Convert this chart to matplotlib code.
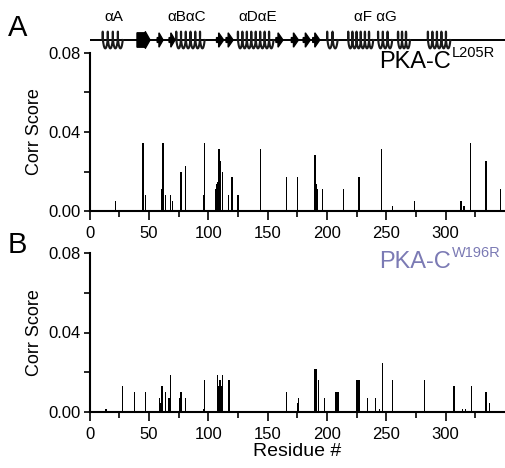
import numpy as np
import matplotlib
matplotlib.use("Agg")
import matplotlib.pyplot as plt
from matplotlib.patches import Polygon
from matplotlib.ticker import FixedLocator

plt.rcParams['font.family'] = ['Liberation Sans', 'DejaVu Sans']

# ---------------- data ----------------
resA = [22, 45, 47, 61, 62, 64, 68, 70, 77, 81, 96, 97, 106, 107, 108, 109, 110, 112,
        117, 120, 125, 144, 166, 175, 190, 191, 192, 196, 214, 227, 246, 255, 274,
        313, 315, 316, 321, 334, 346]
valA = [0.0051, 0.0343, 0.0082, 0.0110, 0.0343, 0.0082, 0.0082, 0.0051, 0.0199, 0.0229,
        0.0082, 0.0343, 0.0110, 0.0135, 0.0145, 0.0314, 0.0255, 0.0199,
        0.0082, 0.0170, 0.0082, 0.0314, 0.0170, 0.0170, 0.0285, 0.0139, 0.0110, 0.0110,
        0.0110, 0.0170, 0.0314, 0.0025, 0.0051,
        0.0051, 0.0025, 0.0025, 0.0343, 0.0255, 0.0110]

resB = [14, 28, 38, 47, 59, 60, 61, 64, 67, 68, 76, 77, 81, 96, 97, 108, 109, 110, 111,
        112, 117, 118, 166, 175, 176, 190, 191, 193, 198, 207, 208, 209, 210, 225, 226,
        227, 234, 241, 244, 247, 255, 282, 307, 314, 317, 322, 334, 337]
valB = [0.0017, 0.0131, 0.0101, 0.0101, 0.0072, 0.0045, 0.0131, 0.0101, 0.0072, 0.0188,
        0.0072, 0.0101, 0.0072, 0.0017, 0.0160, 0.0188, 0.0131, 0.0160, 0.0131,
        0.0188, 0.0160, 0.0160, 0.0101, 0.0045, 0.0072, 0.0218, 0.0218, 0.0160, 0.0072,
        0.0101, 0.0101, 0.0101, 0.0101, 0.0160, 0.0160,
        0.0160, 0.0072, 0.0072, 0.0017, 0.0247, 0.0160, 0.0160, 0.0131, 0.0017, 0.0017,
        0.0131, 0.0101, 0.0045]

# secondary structure (residue ranges)
helices = [(11, 28), (73, 97), (125, 155), (200, 209), (218, 239), (243, 255),
           (260, 270), (285, 304)]
strands = [(57, 62), (67, 72), (107, 113), (115, 121), (157, 163), (170, 176),
           (180, 186), (188, 194)]
big_strands = [(40, 51)]
ss_labels = ["\u03b1A", "\u03b1B\u03b1C", "\u03b1D\u03b1E", "\u03b1F \u03b1G"]
ss_label_pos = [114, 187, 258, 375]  # pixel x centres

xticks_major = [0, 50, 100, 150, 200, 250, 300]
xticks_minor = [25, 75, 125, 175, 225, 275, 325]
yticks_major = [0.0, 0.04, 0.08]
ytick_labels = ["0.00", "0.04", "0.08"]
yticks_minor = [0.02, 0.06]

W, H = 505, 468
fig = plt.figure(figsize=(W / 100, H / 100), dpi=100)

x0px, x1px = 89.5, 505


def make_ax(top_px, bot_px):
    ax = fig.add_axes([x0px / W, 1 - bot_px / H, (x1px - x0px) / W, (bot_px - top_px) / H])
    ax.set_xlim(0, 350)
    ax.set_ylim(0, 0.08)
    for s in ['top', 'right']:
        ax.spines[s].set_visible(False)
    for s in ['left', 'bottom']:
        ax.spines[s].set_linewidth(1.5)
        ax.spines[s].set_zorder(5)
    ax.xaxis.set_major_locator(FixedLocator(xticks_major))
    ax.xaxis.set_minor_locator(FixedLocator(xticks_minor))
    ax.yaxis.set_major_locator(FixedLocator(yticks_major))
    ax.yaxis.set_minor_locator(FixedLocator(yticks_minor))
    ax.set_yticklabels(ytick_labels)
    ax.tick_params(axis='x', which='major', direction='out', length=6.5, width=1.2,
                   labelsize=12, pad=4)
    ax.tick_params(axis='x', which='minor', direction='out', length=4.3, width=1.2)
    ax.tick_params(axis='y', which='both', direction='out', length=4.3, width=1.2,
                   labelsize=12, pad=2)
    ax.set_ylabel("Corr Score", fontsize=13, labelpad=4)
    return ax


axA = make_ax(53, 211)
axB = make_ax(253, 412)

axA.bar(resA, valA, width=1.1, color='black', linewidth=0, zorder=3)
axB.bar(resB, valB, width=1.1, color='black', linewidth=0, zorder=3)
axB.set_xlabel("Residue #", fontsize=14, labelpad=1)

# panel letters
fig.text(8 / W, 1 - 36 / H, "A", fontsize=21, ha='left', va='baseline')
fig.text(8 / W, 1 - 253 / H, "B", fontsize=21, ha='left', va='baseline')

# variant labels
fig.text(379 / W, 1 - 68 / H, "PKA-C", fontsize=17, ha='left', va='baseline', color='black')
fig.text(452 / W, 1 - 57 / H, "L205R", fontsize=10.5, ha='left', va='baseline', color='black')
cB = '#7b7ab4'
fig.text(379 / W, 1 - 268 / H, "PKA-C", fontsize=17, ha='left', va='baseline', color=cB)
fig.text(452 / W, 1 - 257 / H, "W196R", fontsize=10.5, ha='left', va='baseline', color=cB)

# secondary structure strip
ax_ss = fig.add_axes([x0px / W, 1 - 52 / H, (x1px - x0px) / W, 24 / H])
ax_ss.set_xlim(0, 350)
ax_ss.set_ylim(-1, 1)
ax_ss.axis('off')
ax_ss.plot([0, 350], [0, 0], color='black', lw=1.4, solid_capstyle='butt', zorder=1)

for (s, e) in helices:
    n = max(2, int(round((e - s) / 3.8)))
    p = (e - s) / n
    t = np.linspace(0, 2 * np.pi * n, 60 * n)
    r = 0.9
    x = s + p * t / (2 * np.pi) + r * np.cos(t) - r
    y = 0.7 * np.sin(t)
    ax_ss.plot(x, y, color='#1a1a1a', lw=1.5, zorder=3)

for (s, e) in strands:
    head = min(4.5, (e - s) * 0.7)
    pts = [(s, -0.2), (e - head, -0.2), (e - head, -0.6), (e, 0), (e - head, 0.6),
           (e - head, 0.2), (s, 0.2)]
    ax_ss.add_patch(Polygon(pts, closed=True, color='black', zorder=3))

for (s, e) in big_strands:
    head = 4.0
    pts = [(s, -0.6), (e - head, -0.6), (e - head, -0.7), (e, 0), (e - head, 0.7),
           (e - head, 0.6), (s, 0.6)]
    ax_ss.add_patch(Polygon(pts, closed=True, color='black', zorder=3))

for lab, px in zip(ss_labels, ss_label_pos):
    fig.text(px / W, 1 - 17 / H, lab, fontsize=11, ha='center', va='center')

fig.savefig("out.png", dpi=100)
